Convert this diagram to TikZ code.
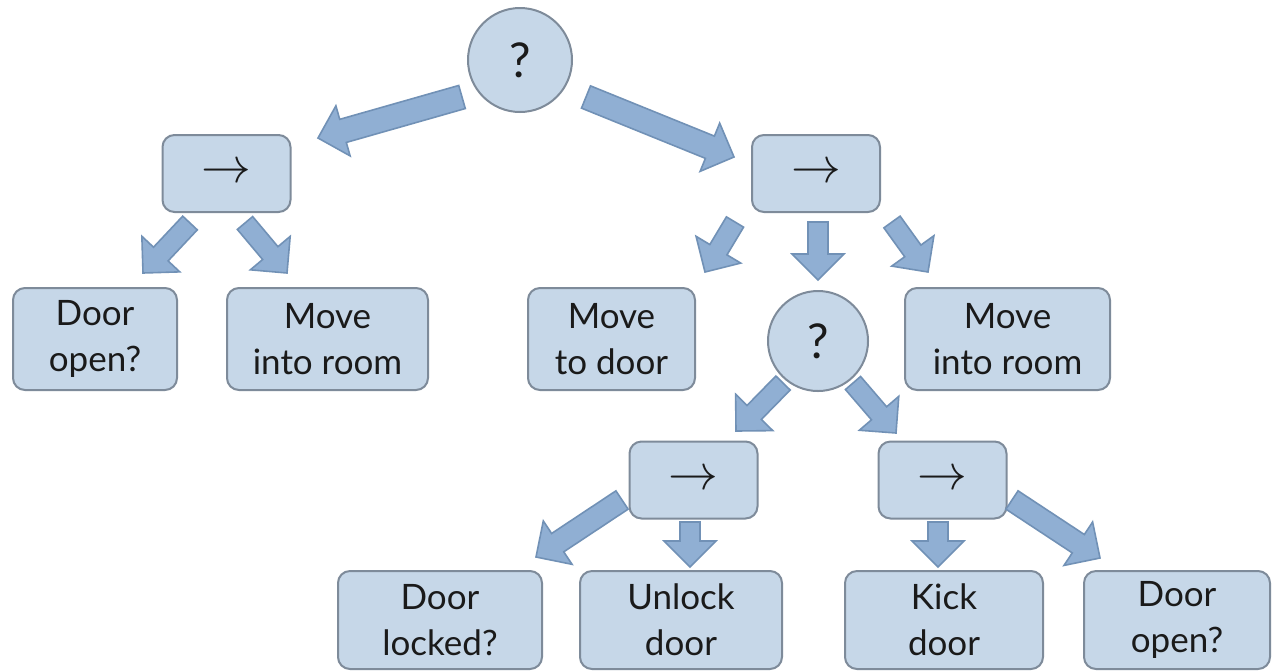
\documentclass[tikz,border=0pt]{standalone}
\usepackage{fontspec}
\setmainfont{Lato}
\usetikzlibrary{calc}

\definecolor{boxfill}{HTML}{C6D7E8}
\definecolor{boxline}{HTML}{7E8B9A}
\definecolor{arrfill}{HTML}{90AFD3}
\definecolor{arrline}{HTML}{7191B6}
\definecolor{inkc}{HTML}{1A1A1A}

% half head width and head length of the block arrows
\newcommand\headw{13pt}
\newcommand\headl{13pt}

% block arrow from tail coordinate #2 to tip coordinate #3, half shaft width #1
\newcommand\fatarrow[3][5pt]{%
  \coordinate (neck) at ($(#3)!\headl!(#2)$);
  \draw[fat]
    ($(#2)!#1!90:(#3)$) --
    ($(neck)!#1!90:(#3)$) --
    ($(neck)!\headw!90:(#3)$) --
    (#3) --
    ($(neck)!\headw!-90:(#3)$) --
    ($(neck)!#1!-90:(#3)$) --
    ($(#2)!#1!-90:(#3)$) -- cycle;}

\tikzset{
  box/.style={rectangle, rounded corners=6pt, fill=boxfill, draw=boxline,
    line width=1pt, align=center, inner sep=0pt, text=inkc,
    font=\fontsize{17.5}{23}\selectfont},
  leaf/.style={box, minimum height=51pt},
  seqbox/.style={box, minimum width=64pt, minimum height=38.5pt,
    font=\fontsize{25}{25}\selectfont},
  selnode/.style={circle, fill=boxfill, draw=boxline, line width=1pt,
    inner sep=0pt, text=inkc, font=\fontsize{24}{24}\selectfont},
  fat/.style={fill=arrfill, draw=arrline, line width=0.8pt, line join=miter},
}

\begin{document}
\begin{tikzpicture}[x=0.5pt, y=-0.5pt]
\useasboundingbox[fill=white] (0,0) rectangle (1272,671);

% tree nodes
\node[selnode, minimum size=52pt] (root) at (520,60) {?};
\node[seqbox] (seqL) at (226.5,173.5) {$\rightarrow$};
\node[seqbox] (seqR) at (816,173.5) {$\rightarrow$};

\node[leaf, minimum width=82pt]   (openA) at (95,339)     {Door\\open?};
\node[leaf, minimum width=100.5pt] (roomA) at (327.5,339) {Move\\into room};
\node[leaf, minimum width=83.5pt] (todoor) at (611.5,339) {Move\\to door};
\node[selnode, minimum size=50pt] (sel) at (818,341) {?};
\node[leaf, minimum width=102.5pt] (roomB) at (1007.5,339) {Move\\into room};

\node[seqbox] (seqU) at (693.5,480) {$\rightarrow$};
\node[seqbox] (seqK) at (942.5,480) {$\rightarrow$};

\node[leaf, minimum width=102pt, minimum height=49pt] (locked) at (440,620)  {Door\\locked?};
\node[leaf, minimum width=101pt, minimum height=49pt] (unlock) at (681,620)  {Unlock\\door};
\node[leaf, minimum width=99pt,  minimum height=49pt] (kick)   at (944,620)  {Kick\\door};
\node[leaf, minimum width=93pt,  minimum height=49pt] (openB)  at (1177,620) {Door\\open?};

% ends of the block arrows
\coordinate (t1) at (462,97);   \coordinate (h1) at (318,138);
\coordinate (t2) at (586,97);   \coordinate (h2) at (734,157);
\coordinate (t3) at (190,223);  \coordinate (h3) at (143,273);
\coordinate (t4) at (245,223);  \coordinate (h4) at (287,273);
\coordinate (t5) at (735,222);  \coordinate (h5) at (705,272);
\coordinate (t6) at (818,222);  \coordinate (h6) at (818,280);
\coordinate (t7) at (892,222);  \coordinate (h7) at (928,272);
\coordinate (t8) at (783,383);  \coordinate (h8) at (736,431);
\coordinate (t9) at (853,383);  \coordinate (h9) at (896,433);
\coordinate (t10) at (622,500); \coordinate (h10) at (536,557);
\coordinate (t11) at (690,522); \coordinate (h11) at (690,567);
\coordinate (t12) at (938,522); \coordinate (h12) at (938,567);
\coordinate (t13) at (1012,500); \coordinate (h13) at (1100,558);

\fatarrow[6pt]{t1}{h1}
\fatarrow[6pt]{t2}{h2}
\fatarrow{t3}{h3}
\fatarrow{t4}{h4}
\fatarrow{t5}{h5}
\fatarrow{t6}{h6}
\fatarrow{t7}{h7}
\fatarrow{t8}{h8}
\fatarrow{t9}{h9}
\fatarrow[5.5pt]{t10}{h10}
\fatarrow{t11}{h11}
\fatarrow{t12}{h12}
\fatarrow[5.5pt]{t13}{h13}
\end{tikzpicture}
\end{document}
